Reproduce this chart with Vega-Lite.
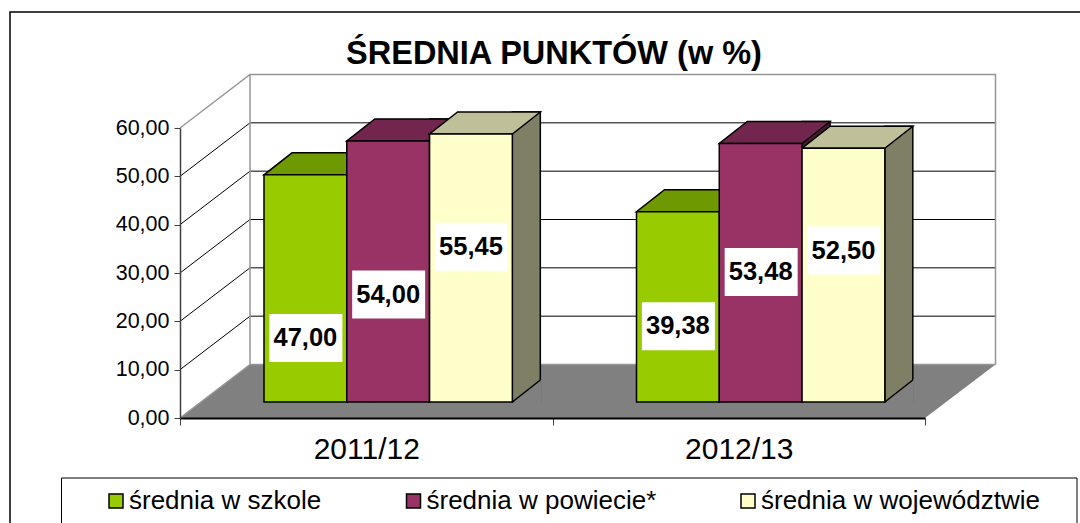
{
"$schema":"https://vega.github.io/schema/vega-lite/v6.json",
"width":745,"height":290,
"autosize":{"type":"none"},
"padding":{"left":180,"top":128,"right":155,"bottom":105},
"background":"white",
"title":{"text":"ŚREDNIA PUNKTÓW (w %)","font":"Liberation Sans","fontSize":32.5,"fontWeight":"bold","color":"black","anchor":"middle","dx":1.5,"offset":-85,"baseline":"alphabetic"},
"config":{"view":{"stroke":null},"font":"Liberation Sans"},
"datasets":{
"bars":[
{"year":"2011/12","series":"średnia w szkole","value":47.00},
{"year":"2011/12","series":"średnia w powiecie*","value":54.00},
{"year":"2011/12","series":"średnia w województwie","value":55.45},
{"year":"2012/13","series":"średnia w szkole","value":39.38},
{"year":"2012/13","series":"średnia w powiecie*","value":53.48},
{"year":"2012/13","series":"średnia w województwie","value":52.50}],
"ticks":[{"value":10},{"value":20},{"value":30},{"value":40},{"value":50}],
"one":[{"value":0}]
},
"layer":[
{"data":{"name":"one"},"mark":{"type":"rect","fill":"white","stroke":"black","strokeWidth":1.5},"encoding":{"x":{"value":-170},"x2":{"value":1000},"y":{"value":-116},"y2":{"value":500}}},
{"data":{"name":"one"},"mark":{"type":"rect","fill":"white","stroke":"black","strokeWidth":1},"encoding":{"x":{"value":-118.5},"x2":{"value":897},"y":{"value":350},"y2":{"value":500}}},
{"data":{"name":"one"},"mark":{"type":"point","shape":"M0,0L70,-53.5H815.5L745,0Z","size":4,"filled":true,"fill":"#808080","stroke":null,"opacity":1},"encoding":{"x":{"value":0},"y":{"field":"value","type":"quantitative","scale":{"domain":[0,60],"nice":false}}}},
{"data":{"name":"ticks"},"mark":{"type":"point","shape":"M0,0L70,-53.5H815.5","size":4,"filled":false,"stroke":"black","strokeWidth":1,"opacity":1},"encoding":{"x":{"value":0},"y":{"field":"value","type":"quantitative"}}},
{"data":{"name":"one"},"mark":{"type":"point","shape":"M0,-290L70,-343.5H815.5V-53.5M70,-343.5V-53.5H815.5M0,0L70,-53.5","size":4,"filled":false,"stroke":"#969696","strokeWidth":1.5,"opacity":1},"encoding":{"x":{"value":0},"y":{"field":"value","type":"quantitative"}}},
{"data":{"name":"bars"},
"encoding":{
"x":{"field":"year","type":"nominal","title":null,"scale":{"paddingInner":0,"paddingOuter":0},"axis":{"labelAngle":0,"labelFontSize":30,"labelColor":"black","labelPadding":9,"tickBand":"extent","tickSize":7,"tickColor":"#404040","domainColor":"black","domainWidth":2,"zindex":1,"labelFont":"Liberation Sans"}},
"xOffset":{"field":"series","type":"nominal","sort":["średnia w szkole","średnia w powiecie*","średnia w województwie"],"scale":{"type":"band","paddingInner":0,"paddingOuter":0.75,"align":0.6765}},
"y":{"field":"value","type":"quantitative","title":null,"scale":{"domain":[0,60],"nice":false},"axis":{"values":[0,10,20,30,40,50,60],"format":".2f","labelExpr":"replace(datum.label,'.',',')","labelFontSize":21.5,"labelColor":"black","labelPadding":5,"tickSize":6,"tickColor":"#404040","domainColor":"#404040","domainWidth":1.5,"grid":false,"zindex":1,"labelFont":"Liberation Sans"}}
},
"resolve":{"scale":{"fill":"independent","xOffset":"independent"}},
"layer":[
{"mark":{"type":"bar","width":28,"yOffset":-38,"y2Offset":-16,"stroke":"black","strokeWidth":1.5},"encoding":{"xOffset":{"field":"series","type":"nominal","sort":["średnia w szkole","średnia w powiecie*","średnia w województwie"],"scale":{"type":"band","paddingInner":0,"paddingOuter":0,"range":[139.4,387.7]}},"y2":{"datum":0},"fill":{"field":"series","type":"nominal","legend":null,"scale":{"domain":["średnia w szkole","średnia w powiecie*","średnia w województwie"],"range":["#4D6600","#4C1933","#7F7F66"]}}}},
{"mark":{"type":"point","shape":"M41.39,-15L70.5,-15L70.5,-38.8Z","size":4,"filled":true,"fill":"#808080","stroke":null,"opacity":1},"encoding":{"y":{"datum":0}}},
{"mark":{"type":"point","shape":"M41.39,-16L69.39,-38","size":4,"filled":false,"stroke":"black","strokeWidth":1.5,"opacity":1},"encoding":{"y":{"datum":0}}},
{"mark":{"type":"point","shape":"M-41.39,-16L41.39,-16L69.39,-38L-13.39,-38Z","size":4,"filled":true,"stroke":"black","strokeWidth":1.5,"opacity":1},"encoding":{"fill":{"field":"series","type":"nominal","legend":null,"scale":{"domain":["średnia w szkole","średnia w powiecie*","średnia w województwie"],"range":["#6F9900","#72264E","#BFBF99"]}}}},
{"mark":{"type":"bar","yOffset":-16,"y2Offset":-16,"stroke":"black","strokeWidth":1.5},"encoding":{"y2":{"datum":0},"fill":{"field":"series","type":"nominal","scale":{"domain":["średnia w szkole","średnia w powiecie*","średnia w województwie"],"range":["#99CC00","#993366","#FFFFCC"]},"legend":{"title":null,"orient":"none","legendX":-77,"legendY":360,"direction":"horizontal","columns":3,"symbolType":"square","symbolSize":196,"symbolStrokeColor":"black","symbolStrokeWidth":1.5,"labelFontSize":26,"labelFont":"Liberation Sans","labelColor":"black","labelLimit":400,"labelOffset":0,"columnPadding":78.5,"padding":0}}}},
{"mark":{"type":"point","shape":"M-36,-24H37V24H-36Z","size":4,"filled":true,"fill":"white","stroke":null,"opacity":1,"yOffset":{"expr":"({'2011/12 średnia w szkole':-80,'2011/12 średnia w powiecie*':-123.5,'2011/12 średnia w województwie':-171.3,'2012/13 średnia w szkole':-91.7,'2012/13 średnia w powiecie*':-146,'2012/13 średnia w województwie':-167.5})[datum.year+' '+datum.series]"}},"encoding":{"y":{"datum":0}}},
{"mark":{"type":"text","fontSize":25.5,"fontWeight":"bold","font":"Liberation Sans","fill":"black","baseline":"middle","dy":0,"yOffset":{"expr":"({'2011/12 średnia w szkole':-80,'2011/12 średnia w powiecie*':-123.5,'2011/12 średnia w województwie':-171.3,'2012/13 średnia w szkole':-91.7,'2012/13 średnia w powiecie*':-146,'2012/13 średnia w województwie':-167.5})[datum.year+' '+datum.series]"},"text":{"expr":"replace(format(datum.value,'.2f'),'.',',')"}},"encoding":{"y":{"datum":0}}}
]}
]
}
